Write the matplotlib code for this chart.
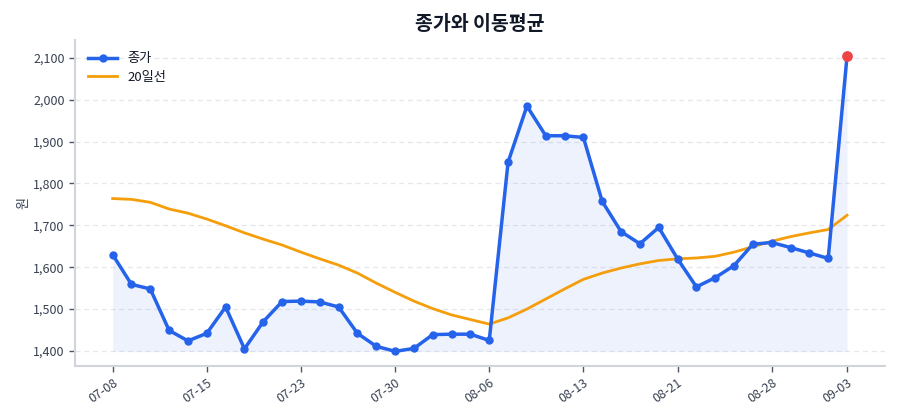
import matplotlib
matplotlib.use("Agg")
import matplotlib.pyplot as plt
import numpy as np

plt.rcParams['font.family'] = ['Noto Sans CJK KR', 'DejaVu Sans']

dates = ["07-08", "07-09", "07-10", "07-11", "07-12", "07-15", "07-16", "07-17", "07-18", "07-19",
         "07-23", "07-24", "07-25", "07-26", "07-29", "07-30", "07-31", "08-01", "08-02", "08-05",
         "08-06", "08-07", "08-08", "08-09", "08-12", "08-13", "08-14", "08-16", "08-19", "08-20",
         "08-21", "08-22", "08-23", "08-26", "08-27", "08-28", "08-29", "08-30", "09-02", "09-03"]
close = [1630, 1559, 1548, 1449, 1424, 1442, 1505, 1405, 1470, 1518,
         1519, 1517, 1505, 1442, 1411, 1399, 1406, 1439, 1440, 1440,
         1425, 1851, 1985, 1914, 1914, 1910, 1757, 1685, 1656, 1695,
         1620, 1553, 1575, 1604, 1655, 1659, 1647, 1634, 1621, 2104]
ma20 = [1764, 1762, 1755, 1739, 1729, 1715, 1699, 1682, 1667, 1653,
        1636, 1620, 1605, 1586, 1562, 1540, 1519, 1501, 1486, 1475,
        1464, 1479, 1500, 1524, 1548, 1571, 1586, 1598, 1608, 1616,
        1620, 1622, 1626, 1636, 1649, 1662, 1673, 1682, 1690, 1724]
tick_idx = [0, 5, 10, 15, 20, 25, 30, 35, 39]

blue = "#2563eb"
orange = "#f59e0b"
red = "#ef4444"
txt = "#374151"
spine = "#d1d5db"

fig = plt.figure(figsize=(9, 4.2), dpi=100)
ax = fig.add_axes([0.0833, 0.1286, 0.8997, 0.7764])

x = np.arange(len(close))
base = min(close)
ax.fill_between(x, close, base, color=blue, alpha=0.08, linewidth=0)
ax.plot(x, close, color=blue, linewidth=2.5, marker='o', markersize=5, label="종가", zorder=3)
ax.plot(x, ma20, color=orange, linewidth=2.0, label="20일선", zorder=2)
ax.scatter([x[-1]], [close[-1]], color=red, s=45, zorder=4)

ax.set_xlim(-2, 41)
ax.set_ylim(1364, 2143)
yt = [1400, 1500, 1600, 1700, 1800, 1900, 2000, 2100]
ax.set_yticks(yt)
ax.set_yticklabels([f"{v:,}" for v in yt])
ax.set_xticks(tick_idx)
ax.set_xticklabels([dates[i] for i in tick_idx], rotation=35, ha='right', rotation_mode='anchor')

ax.grid(axis='y', color="#e5e7eb", linestyle=(0, (4, 3)), linewidth=0.9)
ax.set_axisbelow(True)
for s in ['top', 'right']:
    ax.spines[s].set_visible(False)
for s in ['left', 'bottom']:
    ax.spines[s].set_color(spine)
    ax.spines[s].set_linewidth(1.5)
ax.tick_params(axis='both', colors="#4b5563", labelcolor=txt, labelsize=9, length=4, width=1)
ax.set_ylabel("원", color=txt, fontsize=9.5, labelpad=2)
ax.set_title("종가와 이동평균", fontsize=14, fontweight='bold', color="#111827", pad=7)

leg = ax.legend(loc='upper left', frameon=False, fontsize=9.5, handlelength=2.2,
                bbox_to_anchor=(0.005, 0.99), borderaxespad=0.3, labelspacing=0.4)
for t in leg.get_texts():
    t.set_color("#111827")

fig.savefig("out.png", dpi=100)
